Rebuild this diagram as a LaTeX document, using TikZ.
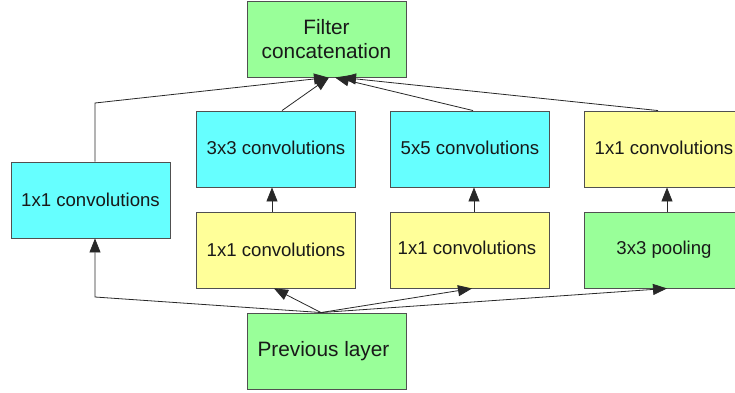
\documentclass[tikz,border=0pt]{standalone}
\usepackage{fontspec}
\setmainfont{Liberation Sans}
\usetikzlibrary{arrows.meta,calc}
\definecolor{boxgreen}{RGB}{153,255,153}
\definecolor{boxcyan}{RGB}{102,255,255}
\definecolor{boxyellow}{RGB}{255,255,153}
\definecolor{edgegray}{RGB}{80,80,80}
\definecolor{wiregray}{RGB}{40,40,40}
\tikzset{
  layer/.style={draw=edgegray, line width=0.9pt, minimum width=159pt, minimum height=76pt,
    inner sep=0pt, font=\fontsize{18.6}{22}\selectfont, text=black!90},
  bigtext/.style={font=\fontsize{20.8}{23.5}\selectfont, align=center},
  green/.style={layer, fill=boxgreen},
  cyan/.style={layer, fill=boxcyan},
  yellow/.style={layer, fill=boxyellow},
  wire/.style={draw=wiregray, line width=0.8pt},
  flow/.style={wire, -{Triangle[length=14pt,width=11pt]}},
}
\begin{document}
\begin{tikzpicture}[x=1pt,y=-1pt]
\clip (0,0) rectangle (735,392);
\fill[white] (0,0) rectangle (735,392);

% layers
\node[green, bigtext] (concat) at (326.5,39) {Filter\\concatenation};
\node[cyan]   (left1) at (90.5,200) {\raisebox{1pt}{1x1 convolutions}};
\node[cyan]   (c3)    at (276,149)  {\raisebox{2pt}{3x3 convolutions}};
\node[cyan]   (c5)    at (470,149)  {\raisebox{2pt}{5x5 convolutions}};
\node[yellow] (r1)    at (664,149)  {\raisebox{2pt}{1x1 convolutions}};
\node[yellow] (y1)    at (276,250)  {\raisebox{1pt}{1x1 convolutions}};
\node[yellow] (y2)    at (470,250)  {\raisebox{5pt}{1x1 convolutions\hspace{6pt}}};
\node[green]  (pool)  at (664,250)  {\raisebox{1pt}{3x3 pooling}};
\node[green, bigtext] (prev) at (326.5,351) {\raisebox{2pt}{\hspace{-6pt}Previous layer}};

% bend points of the outer branch
\coordinate (lowbend) at (95,297);
\coordinate (highbend) at (95,103);

% from the previous layer into the four branches
\draw[flow] ([xshift=-5.5pt]prev.north) -- (lowbend) -- ([xshift=4.5pt]left1.south);
\draw[flow] ([xshift=-5.5pt]prev.north) -- ([xshift=-2pt]y1.south);
\draw[flow] ([xshift=-5.5pt]prev.north) -- ([xshift=2pt]y2.south);
\draw[flow] ([xshift=-5.5pt]prev.north) -- ([xshift=3pt]pool.south);

% second stage of each branch
\draw[flow] ([xshift=-4pt]y1.north) -- ([xshift=-4pt]c3.south);
\draw[flow] ([xshift=4pt]y2.north) -- ([xshift=4pt]c5.south);
\draw[flow] ([xshift=3pt]pool.north) -- ([xshift=3pt]r1.south);

% branches merging into the concatenation
\draw[flow] ([xshift=4.5pt]left1.north) -- (highbend) -- ([xshift=1.5pt]concat.south);
\draw[flow] ([xshift=6pt]c3.north) -- ([xshift=2.5pt]concat.south);
\draw[flow] ([xshift=3pt]c5.north) -- ([xshift=8.5pt]concat.south);
\draw[flow] ([xshift=-6pt]r1.north) -- ([xshift=15.5pt]concat.south);
\end{tikzpicture}
\end{document}
